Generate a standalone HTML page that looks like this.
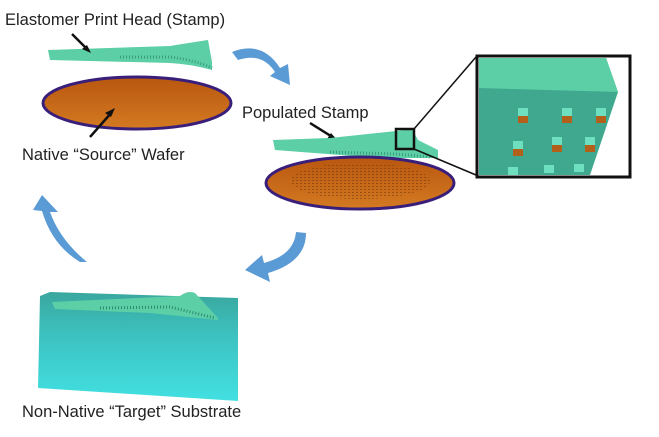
<!DOCTYPE html>
<html><head><style>html,body{margin:0;padding:0;background:#fff;}svg{display:block}</style></head>
<body>
<svg width="659" height="437" viewBox="0 0 659 437" xmlns="http://www.w3.org/2000/svg" font-family="Liberation Sans, sans-serif">
<defs>
<linearGradient id="org" x1="0" y1="0" x2="0" y2="1"><stop offset="0" stop-color="#b8560f"/><stop offset="1" stop-color="#d47a22"/></linearGradient>
<linearGradient id="sub" x1="0" y1="0" x2="0" y2="1"><stop offset="0" stop-color="#3aa79e"/><stop offset="0.4" stop-color="#3cc2c0"/><stop offset="1" stop-color="#42e0e2"/></linearGradient>
<pattern id="grid" width="4" height="3" patternUnits="userSpaceOnUse"><rect width="2" height="1" fill="#6a3008"/></pattern>
</defs>
<text x="5" y="25" font-size="16.5" fill="#222">Elastomer Print Head (Stamp)</text>
<!-- stamp 1 -->
<path d="M48,50 L170,46 Q195,42 208,40 L212,62 L212,70 Q190,64 170,63 L50,60 Z" fill="#5ccfa6"/>
<path d="M120,57 L170,57 Q195,60 212,68" stroke="#3a9c7c" stroke-width="3" fill="none" stroke-dasharray="1 2"/>
<line x1="72" y1="34" x2="88" y2="50" stroke="#111" stroke-width="2.5"/><path d="M91,53 L82,49 L87,45 Z" fill="#111"/>
<!-- wafer 1 -->
<ellipse cx="137" cy="103" rx="94" ry="26" fill="url(#org)" stroke="#3a1f7a" stroke-width="3"/>
<line x1="90" y1="137" x2="112" y2="112" stroke="#111" stroke-width="2.5"/><path d="M115,108 L105,113 L111,117 Z" fill="#111"/>
<text x="22" y="160" font-size="16.5" fill="#222">Native “Source” Wafer</text>
<!-- arrow 1 -->
<path d="M232,52 Q262,40 280,68 L288,64 L290,85 L270,76 L275,72 Q262,52 238,60 Z" fill="#5b9bd5"/>
<text x="242" y="118" font-size="16.5" fill="#222">Populated Stamp</text>
<line x1="310" y1="123" x2="334" y2="138" stroke="#111" stroke-width="2.5"/><path d="M338,141 L327,139 L331,133 Z" fill="#111"/>
<!-- stamp 2 -->
<path d="M273,140 L330,138 L396,131 L412,129 L418,140 L438,150 L438,158 L380,158 L275,150 Z" fill="#5ccfa6"/>
<path d="M330,152 L396,154 L432,157" stroke="#3a9c7c" stroke-width="3" fill="none" stroke-dasharray="1 2"/>
<rect x="396" y="129" width="18" height="20" fill="none" stroke="#111" stroke-width="2.5"/>
<line x1="414" y1="129" x2="476" y2="57" stroke="#111" stroke-width="1.5"/>
<line x1="414" y1="149" x2="476" y2="175" stroke="#111" stroke-width="1.5"/>
<!-- wafer 2 -->
<ellipse cx="360" cy="183" rx="94" ry="26" fill="url(#org)" stroke="#3a1f7a" stroke-width="3"/>
<ellipse cx="360" cy="181" rx="70" ry="18" fill="url(#grid)" opacity="0.5"/>
<!-- inset -->
<rect x="477" y="56" width="153" height="121" fill="#fff" stroke="#111" stroke-width="3"/>
<path d="M479,58 L606,58 L618,92 L590,175 L479,175 Z" fill="#3fa88f"/>
<path d="M479,58 L606,58 L618,92 L479,88 Z" fill="#5ccfa6"/>
<g fill="#6ee0c0"><rect x="518" y="108" width="10" height="8"/><rect x="562" y="108" width="10" height="8"/><rect x="596" y="108" width="10" height="8"/><rect x="513" y="141" width="10" height="8"/><rect x="552" y="137" width="10" height="8"/><rect x="585" y="137" width="10" height="8"/><rect x="508" y="167" width="10" height="8"/><rect x="544" y="165" width="10" height="8"/><rect x="574" y="164" width="10" height="8"/></g>
<g fill="#b2601a"><rect x="518" y="116" width="10" height="7"/><rect x="562" y="116" width="10" height="7"/><rect x="596" y="116" width="10" height="7"/><rect x="513" y="149" width="10" height="7"/><rect x="552" y="145" width="10" height="7"/><rect x="585" y="145" width="10" height="7"/></g>
<!-- arrow down -->
<path d="M296,232 L306,233 Q306,262 268,273 L270,282 L245,270 L262,255 L264,263 Q294,255 296,232 Z" fill="#5b9bd5"/>
<!-- arrow up -->
<path d="M80,262 L87,262 Q60,240 50,212 L58,212 L42,195 L33,210 L42,211 Q52,245 80,262 Z" fill="#5b9bd5"/>
<!-- substrate -->
<path d="M40,296 L50,292 L238,298 L238,401 L38,388 Z" fill="url(#sub)"/>
<path d="M52,302 L180,296 Q188,290 195,293 L218,318 L218,320 L150,313 L55,309 Z" fill="#5ccfa6"/>
<path d="M100,308 L170,307 L215,318" stroke="#2f8c72" stroke-width="3" fill="none" stroke-dasharray="1 2"/>
<text x="22" y="417" font-size="16.5" fill="#222">Non-Native “Target” Substrate</text>
</svg>
</body></html>
